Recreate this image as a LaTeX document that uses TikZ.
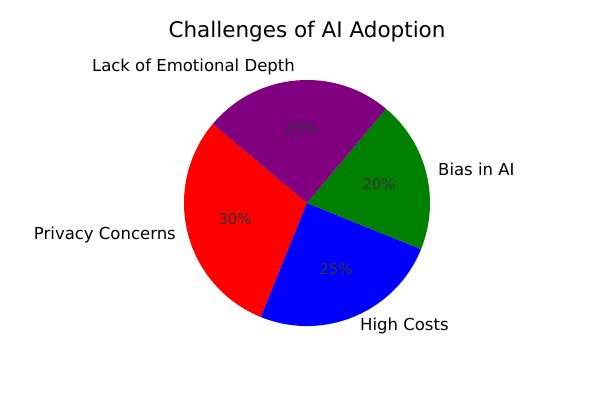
\documentclass[tikz,border=0pt]{standalone}
\usepackage{fontspec}
\setmainfont{DejaVu Sans}
\definecolor{mpurple}{RGB}{128,0,128}
\definecolor{mgreen}{RGB}{0,128,0}
\begin{document}
\begin{tikzpicture}[x=1pt,y=-1pt,
  lab/.style={font=\fontsize{16.5}{18}\selectfont,inner sep=0pt},
  pct/.style={font=\fontsize{15}{17}\selectfont,inner sep=0pt,text=black!80}]
\useasboundingbox[fill=white] (0,0) rectangle (600,400);
\coordinate (c) at (307,203);
\begin{scope}[shift={(307,203)}]
\def\R{123pt}
\fill[red] (0,0) -- (140:\R) arc[start angle=140,end angle=248,radius=\R] -- cycle;
\fill[blue] (0,0) -- (248:\R) arc[start angle=248,end angle=338,radius=\R] -- cycle;
\fill[mgreen] (0,0) -- (338:\R) arc[start angle=338,end angle=410,radius=\R] -- cycle;
\fill[mpurple] (0,0) -- (50:\R) arc[start angle=50,end angle=140,radius=\R] -- cycle;
\end{scope}
\node[font=\fontsize{21.5}{24}\selectfont] (t) at (307,32) {Challenges of AI Adoption};
\node[lab,anchor=east] (l1) at (295,67) {Lack of Emotional Depth};
\node[lab,anchor=east] (l2) at (176,235) {Privacy Concerns};
\node[lab,anchor=west] (l3) at (360,326) {High Costs};
\node[lab,anchor=west] (l4) at (438,169) {Bias in AI};
\node[pct] (p1) at (301,128) {25\%};
\node[pct] (p2) at (235,219) {30\%};
\node[pct] (p3) at (336,269) {25\%};
\node[pct] (p4) at (379,184) {20\%};
\end{tikzpicture}
\end{document}
